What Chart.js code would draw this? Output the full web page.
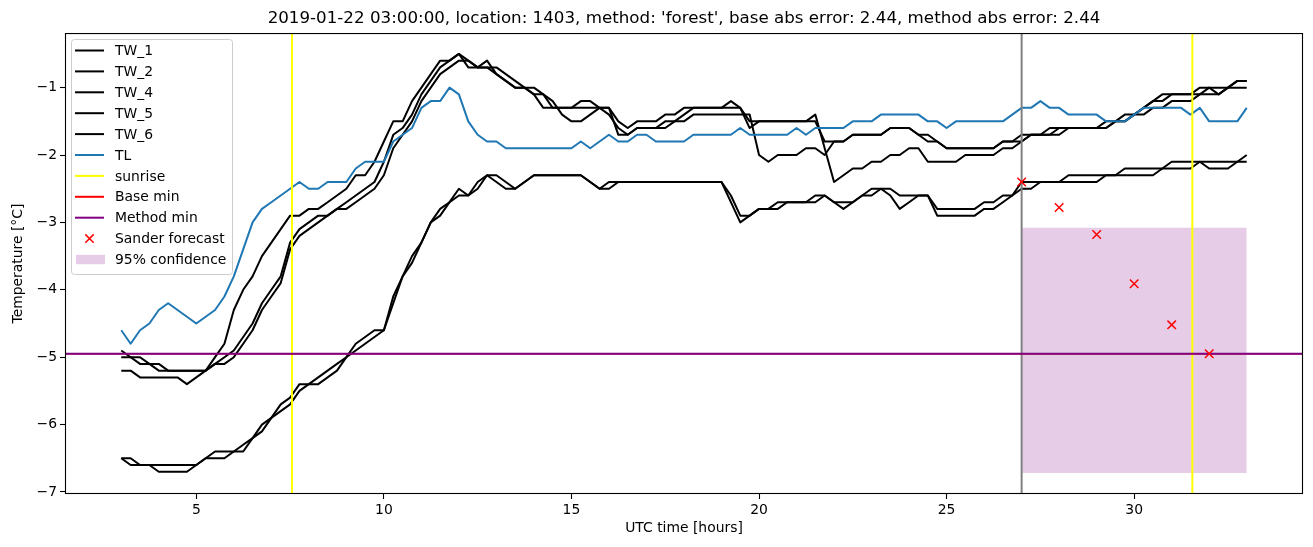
<!DOCTYPE html>
<html>
<head>
<meta charset="utf-8">
<script src="https://cdn.jsdelivr.net/npm/chart.js@4"></script>
<style>
  body { margin: 0; background: #fff; }
  canvas { display: block; }
</style>
</head>
<body>
<canvas id="chart" width="1313" height="547"></canvas>
<script>
var titleText = "2019-01-22 03:00:00, location: 1403, method: 'forest', base abs error: 2.44, method abs error: 2.44";

// measurements every 15 minutes from 03:00 to 33:00
var startHour = 3;
var stepHours = 0.25;

var tw1 = [
  -4.9, -5.0, -5.0, -5.1,  -5.1, -5.2, -5.2, -5.2,  -5.2, -5.2, -5.0, -4.8,
  -4.3, -4.0, -3.8, -3.5,  -3.3, -3.1, -2.9, -2.9,  -2.8, -2.8, -2.7, -2.6,
  -2.5, -2.3, -2.3, -2.1,  -1.8, -1.5, -1.5, -1.2,  -1.0, -0.8, -0.6, -0.6,
  -0.5, -0.6, -0.7, -0.6,  -0.8, -0.9, -1.0, -1.0,  -1.1, -1.3, -1.3, -1.3,
  -1.3, -1.2, -1.2, -1.3,  -1.3, -1.5, -1.6, -1.5,  -1.5, -1.5, -1.4, -1.4,
  -1.3, -1.3, -1.3, -1.3,  -1.3, -1.2, -1.3, -1.6,  -1.5, -1.5, -1.5, -1.5,
  -1.5, -1.5, -1.4, -1.9,  -2.4, -2.3, -2.2, -2.2,  -2.1, -2.1, -2.0, -2.0,
  -1.9, -1.9, -2.1, -2.1,  -2.1, -2.1, -2.0, -2.0,  -2.0, -2.0, -1.9, -1.9,
  -1.8, -1.7, -1.7, -1.7,  -1.7, -1.6, -1.6, -1.6,  -1.6, -1.6, -1.5, -1.5,
  -1.4, -1.3, -1.2, -1.2,  -1.1, -1.1, -1.1, -1.1,  -1.0, -1.1, -1.0, -0.9,
  -0.9
];
var tw2 = [
  -5.0, -5.0, -5.1, -5.1,  -5.2, -5.2, -5.2, -5.2,  -5.2, -5.2, -5.1, -5.0,
  -4.9, -4.7, -4.5, -4.2,  -4.0, -3.8, -3.3, -3.1,  -3.0, -2.9, -2.9, -2.8,
  -2.7, -2.6, -2.5, -2.4,  -2.1, -1.7, -1.6, -1.4,  -1.1, -0.9, -0.7, -0.6,
  -0.5, -0.7, -0.7, -0.7,  -0.8, -0.9, -1.0, -1.0,  -1.0, -1.1, -1.2, -1.4,
  -1.5, -1.5, -1.4, -1.3,  -1.3, -1.7, -1.7, -1.6,  -1.6, -1.6, -1.6, -1.5,
  -1.5, -1.4, -1.4, -1.4,  -1.4, -1.4, -1.4, -1.4,  -2.0, -2.1, -2.0, -2.0,
  -2.0, -1.9, -1.9, -2.0,  -1.8, -1.8, -1.7, -1.7,  -1.7, -1.7, -1.6, -1.6,
  -1.6, -1.7, -1.8, -1.8,  -1.9, -1.9, -1.9, -1.9,  -1.9, -1.9, -1.8, -1.8,
  -1.8, -1.7, -1.7, -1.7,  -1.6, -1.6, -1.6, -1.6,  -1.6, -1.6, -1.5, -1.5,
  -1.4, -1.4, -1.3, -1.3,  -1.2, -1.2, -1.2, -1.1,  -1.1, -1.1, -1.0, -1.0,
  -1.0
];
var tw4 = [
  -5.2, -5.2, -5.3, -5.3,  -5.3, -5.3, -5.3, -5.4,  -5.3, -5.2, -5.1, -5.1,
  -5.0, -4.8, -4.6, -4.3,  -4.1, -3.9, -3.4, -3.2,  -3.1, -3.0, -2.9, -2.8,
  -2.8, -2.7, -2.6, -2.5,  -2.3, -1.9, -1.7, -1.5,  -1.2, -1.0, -0.8, -0.7,
  -0.6, -0.6, -0.7, -0.7,  -0.7, -0.8, -0.9, -1.0,  -1.1, -1.1, -1.3, -1.3,
  -1.3, -1.3, -1.3, -1.3,  -1.4, -1.6, -1.7, -1.6,  -1.6, -1.6, -1.5, -1.5,
  -1.4, -1.3, -1.3, -1.3,  -1.3, -1.3, -1.3, -1.5,  -1.5, -1.5, -1.5, -1.5,
  -1.5, -1.5, -1.5, -1.8,  -1.8, -1.8, -1.7, -1.7,  -1.7, -1.7, -1.6, -1.6,
  -1.6, -1.7, -1.7, -1.8,  -1.9, -1.9, -1.9, -1.9,  -1.9, -1.9, -1.8, -1.8,
  -1.7, -1.7, -1.7, -1.6,  -1.6, -1.6, -1.6, -1.6,  -1.6, -1.5, -1.5, -1.4,
  -1.4, -1.3, -1.2, -1.1,  -1.1, -1.1, -1.1, -1.0,  -1.0, -1.0, -1.0, -0.9,
  -0.9
];
var tw5 = [
  -6.5, -6.5, -6.6, -6.6,  -6.7, -6.7, -6.7, -6.7,  -6.6, -6.5, -6.5, -6.5,
  -6.4, -6.4, -6.2, -6.1,  -5.9, -5.8, -5.7, -5.5,  -5.4, -5.4, -5.3, -5.2,
  -5.0, -4.9, -4.8, -4.7,  -4.6, -4.2, -3.8, -3.6,  -3.3, -3.0, -2.9, -2.7,
  -2.5, -2.6, -2.5, -2.3,  -2.3, -2.4, -2.5, -2.4,  -2.3, -2.3, -2.3, -2.3,
  -2.3, -2.3, -2.4, -2.5,  -2.4, -2.4, -2.4, -2.4,  -2.4, -2.4, -2.4, -2.4,
  -2.4, -2.4, -2.4, -2.4,  -2.4, -2.7, -3.0, -2.9,  -2.8, -2.8, -2.8, -2.7,
  -2.7, -2.7, -2.7, -2.6,  -2.7, -2.7, -2.7, -2.6,  -2.5, -2.5, -2.6, -2.8,
  -2.7, -2.6, -2.6, -2.9,  -2.9, -2.9, -2.9, -2.9,  -2.8, -2.8, -2.7, -2.6,
  -2.4, -2.4, -2.4, -2.4,  -2.4, -2.3, -2.3, -2.3,  -2.3, -2.3, -2.3, -2.2,
  -2.2, -2.2, -2.2, -2.2,  -2.1, -2.1, -2.1, -2.1,  -2.1, -2.1, -2.1, -2.1,
  -2.1
];
var tw6 = [
  -6.5, -6.6, -6.6, -6.6,  -6.6, -6.6, -6.6, -6.6,  -6.6, -6.5, -6.4, -6.4,
  -6.4, -6.3, -6.2, -6.0,  -5.9, -5.7, -5.6, -5.4,  -5.4, -5.3, -5.2, -5.1,
  -5.0, -4.8, -4.7, -4.6,  -4.6, -4.1, -3.8, -3.5,  -3.3, -3.0, -2.8, -2.7,
  -2.6, -2.6, -2.4, -2.3,  -2.4, -2.5, -2.5, -2.4,  -2.3, -2.3, -2.3, -2.3,
  -2.3, -2.3, -2.4, -2.5,  -2.5, -2.4, -2.4, -2.4,  -2.4, -2.4, -2.4, -2.4,
  -2.4, -2.4, -2.4, -2.4,  -2.4, -2.6, -2.9, -2.9,  -2.8, -2.8, -2.7, -2.7,
  -2.7, -2.7, -2.6, -2.6,  -2.7, -2.8, -2.7, -2.6,  -2.6, -2.5, -2.5, -2.6,
  -2.6, -2.6, -2.6, -2.8,  -2.8, -2.8, -2.8, -2.8,  -2.7, -2.7, -2.6, -2.6,
  -2.5, -2.5, -2.4, -2.4,  -2.4, -2.4, -2.4, -2.4,  -2.4, -2.3, -2.3, -2.3,
  -2.3, -2.3, -2.3, -2.2,  -2.2, -2.2, -2.2, -2.1,  -2.2, -2.2, -2.2, -2.1,
  -2.0
];
var tl = [
  -4.6, -4.8, -4.6, -4.5,  -4.3, -4.2, -4.3, -4.4,  -4.5, -4.4, -4.3, -4.1,
  -3.8, -3.4, -3.0, -2.8,  -2.7, -2.6, -2.5, -2.4,  -2.5, -2.5, -2.4, -2.4,
  -2.4, -2.2, -2.1, -2.1,  -2.1, -1.8, -1.7, -1.6,  -1.3, -1.2, -1.2, -1.0,
  -1.1, -1.5, -1.7, -1.8,  -1.8, -1.9, -1.9, -1.9,  -1.9, -1.9, -1.9, -1.9,
  -1.9, -1.8, -1.9, -1.8,  -1.7, -1.8, -1.8, -1.7,  -1.7, -1.8, -1.8, -1.8,
  -1.8, -1.7, -1.7, -1.7,  -1.7, -1.7, -1.6, -1.7,  -1.7, -1.7, -1.7, -1.7,
  -1.6, -1.7, -1.6, -1.6,  -1.6, -1.6, -1.5, -1.5,  -1.5, -1.4, -1.4, -1.4,
  -1.4, -1.4, -1.5, -1.5,  -1.6, -1.5, -1.5, -1.5,  -1.5, -1.5, -1.5, -1.4,
  -1.3, -1.3, -1.2, -1.3,  -1.3, -1.4, -1.4, -1.4,  -1.4, -1.5, -1.5, -1.5,
  -1.4, -1.3, -1.3, -1.3,  -1.3, -1.3, -1.4, -1.3,  -1.5, -1.5, -1.5, -1.5,
  -1.3
];

var sunriseHours = [7.55, 31.55];
var forecastStart = 27;
var baseMin = -4.95;
var methodMin = -4.95;
var forecastHours = [27, 28, 29, 30, 31, 32];
var forecastTemps = [-2.4, -2.78, -3.18, -3.91, -4.52, -4.95];
var bandHours = [27, 33];
var bandUpper = [-3.08, -3.08];
var bandLower = [-6.72, -6.72];

var xTicks = [5, 10, 15, 20, 25, 30];
var yTicks = [-7, -6, -5, -4, -3, -2, -1];
var xMin = 1.5, xMax = 34.5;
var yMin = -7.03, yMax = -0.19;

var fontFamily = "'DejaVu Sans', sans-serif";

var hours = [];
for (var i = 0; i < tl.length; i++) {
  hours.push(startHour + i * stepHours);
}

function pairs(xs, ys) {
  return xs.map(function (x, i) { return { x: x, y: ys[i] }; });
}

function lineSet(label, xs, ys, color, order, inLegend, width) {
  return {
    label: label,
    data: pairs(xs, ys),
    borderColor: color,
    backgroundColor: color,
    borderWidth: width || 2,
    borderJoinStyle: 'round',
    pointRadius: 0,
    tension: 0,
    fill: false,
    order: order,
    inLegend: inLegend,
    legendKind: 'line'
  };
}

var datasets = [
  lineSet('TW_1', hours, tw1, '#000000', 50, true),
  lineSet('TW_2', hours, tw2, '#000000', 50, true),
  lineSet('TW_4', hours, tw4, '#000000', 50, true),
  lineSet('TW_5', hours, tw5, '#000000', 50, true),
  lineSet('TW_6', hours, tw6, '#000000', 50, true),
  lineSet('TL', hours, tl, '#1f77b4', 40, true),
  lineSet('sunrise', [sunriseHours[0], sunriseHours[0]], [yMin, yMax], '#ffff00', 30, true),
  lineSet('sunrise 2', [sunriseHours[1], sunriseHours[1]], [yMin, yMax], '#ffff00', 30, false),
  lineSet('forecast start', [forecastStart, forecastStart], [yMin, yMax], '#808080', 30, false),
  // base min sits exactly under method min, keep it thinner so purple covers it
  lineSet('Base min', [xMin, xMax], [baseMin, baseMin], '#ff0000', 20, true, 1.2),
  lineSet('Method min', [xMin, xMax], [methodMin, methodMin], '#800080', 10, true),
  {
    label: 'Sander forecast',
    data: pairs(forecastHours, forecastTemps),
    showLine: false,
    pointStyle: 'crossRot',
    pointRadius: 6,
    pointBorderWidth: 1.5,
    borderColor: '#ff0000',
    backgroundColor: '#ff0000',
    order: 0,
    inLegend: true,
    legendKind: 'cross'
  },
  {
    label: '95% confidence',
    data: pairs(bandHours, bandUpper),
    borderColor: 'rgba(0,0,0,0)',
    borderWidth: 0,
    backgroundColor: 'rgba(128,0,128,0.2)',
    pointRadius: 0,
    fill: '+1',
    order: 100,
    inLegend: true,
    legendKind: 'patch'
  },
  {
    label: 'band lower',
    data: pairs(bandHours, bandLower),
    borderColor: 'rgba(0,0,0,0)',
    borderWidth: 0,
    pointRadius: 0,
    fill: false,
    order: 100,
    inLegend: false
  }
];

// box around the axes, drawn over the lines like matplotlib spines
var framePlugin = {
  id: 'frame',
  afterDatasetsDraw: function (chart) {
    var a = chart.chartArea;
    var c = chart.ctx;
    c.save();
    c.strokeStyle = '#000';
    c.lineWidth = 1.1;
    c.strokeRect(a.left + 0.5, a.top + 0.5, a.right - a.left - 1, a.bottom - a.top - 1);
    c.restore();
  }
};

// legend inside the plot, upper left
var boxLegendPlugin = {
  id: 'boxLegend',
  afterDraw: function (chart) {
    var c = chart.ctx;
    var items = chart.data.datasets.filter(function (d) { return d.inLegend; });
    var x0 = 71.5, y0 = 39.5, w = 161, h = 235;
    var rowY = 50.5, rowStep = 20.9;
    var handleX1 = 75, handleX2 = 104, textX = 115;

    c.save();
    c.beginPath();
    c.roundRect(x0, y0, w, h, 3);
    c.fillStyle = 'rgba(255,255,255,0.8)';
    c.fill();
    c.strokeStyle = '#cccccc';
    c.lineWidth = 1;
    c.stroke();

    c.font = '13.9px ' + fontFamily;
    c.textBaseline = 'middle';
    c.textAlign = 'left';
    items.forEach(function (d, i) {
      var y = rowY + i * rowStep;
      if (d.legendKind === 'line') {
        c.strokeStyle = d.borderColor;
        c.lineWidth = 2;
        c.beginPath();
        c.moveTo(handleX1, y);
        c.lineTo(handleX2, y);
        c.stroke();
      } else if (d.legendKind === 'cross') {
        var cx = (handleX1 + handleX2) / 2, r = 4.2;
        c.strokeStyle = d.borderColor;
        c.lineWidth = 1.5;
        c.beginPath();
        c.moveTo(cx - r, y - r); c.lineTo(cx + r, y + r);
        c.moveTo(cx - r, y + r); c.lineTo(cx + r, y - r);
        c.stroke();
      } else if (d.legendKind === 'patch') {
        c.fillStyle = d.backgroundColor;
        c.fillRect(handleX1 + 1, y - 4.7, handleX2 - handleX1, 9.4);
      }
      c.fillStyle = '#000';
      c.fillText(d.label, textX, y + 1);
    });
    c.restore();
  }
};

function minusSign(v) {
  return String(v).replace('-', '\u2212');
}

var tickFont = { family: fontFamily, size: 13.9 };

var ctx = document.getElementById('chart').getContext('2d');
var chart = new Chart(ctx, {
  type: 'line',
  data: { datasets: datasets },
  options: {
    responsive: false,
    animation: false,
    devicePixelRatio: 1,
    layout: { padding: { left: 0, right: 10, top: 0, bottom: 0 } },
    plugins: {
      legend: { display: false },
      tooltip: { enabled: false },
      title: {
        display: true,
        text: titleText,
        fullSize: false,
        color: '#000',
        font: { family: fontFamily, size: 16.7, weight: 'normal' },
        padding: { top: 9, bottom: 4 }
      }
    },
    scales: {
      x: {
        type: 'linear',
        min: xMin,
        max: xMax,
        afterFit: function (s) { s.height = 53; },
        afterBuildTicks: function (s) { s.ticks = xTicks.map(function (v) { return { value: v }; }); },
        grid: { drawOnChartArea: false, tickLength: 5, tickColor: '#000', tickWidth: 1.1 },
        border: { display: false },
        ticks: { color: '#000', font: tickFont, padding: 3, maxRotation: 0, callback: minusSign },
        title: { display: true, text: 'UTC time [hours]', color: '#000', font: tickFont, padding: { top: 10, bottom: 10 } }
      },
      y: {
        type: 'linear',
        min: yMin,
        max: yMax,
        afterFit: function (s) { s.width = 65; },
        afterBuildTicks: function (s) { s.ticks = yTicks.map(function (v) { return { value: v }; }); },
        grid: { drawOnChartArea: false, tickLength: 5, tickColor: '#000', tickWidth: 1.1 },
        border: { display: false },
        ticks: { color: '#000', font: tickFont, padding: 3, callback: minusSign },
        title: { display: true, text: 'Temperature [°C]', color: '#000', font: tickFont, padding: { top: 10, bottom: 10 } }
      }
    }
  },
  plugins: [framePlugin, boxLegendPlugin]
});
</script>
</body>
</html>
